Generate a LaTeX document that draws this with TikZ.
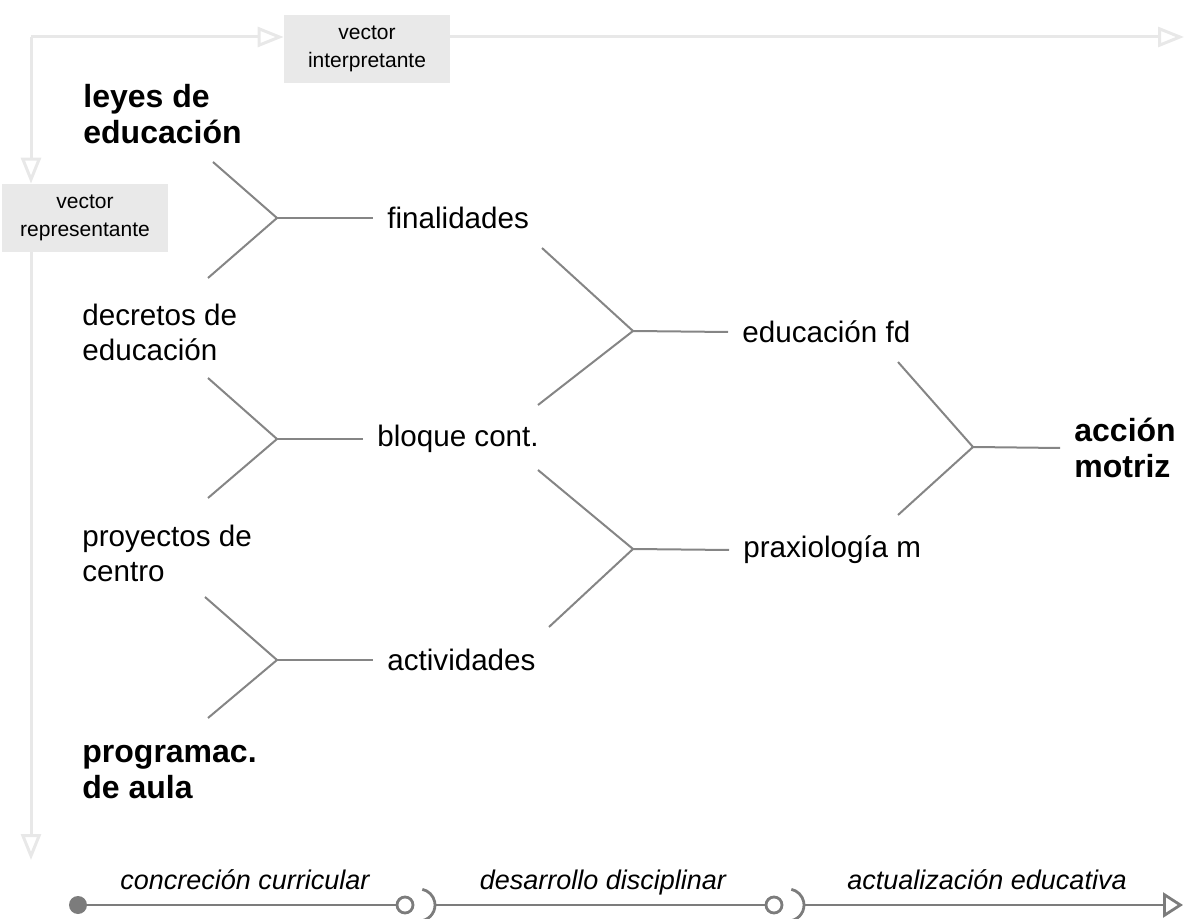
\documentclass[tikz,border=0pt]{standalone}
\usepackage{fontspec}
\setmainfont{Liberation Sans}
\usetikzlibrary{arrows.meta}

\definecolor{framegray}{HTML}{E8E8E8}
\definecolor{boxgray}{HTML}{E9E9E9}
\definecolor{forkgray}{HTML}{858585}
\definecolor{railgray}{HTML}{7C7C7C}

\begin{document}
\begin{tikzpicture}[x=0.5pt, y=-0.5pt,
  term/.style={anchor=west, inner ysep=0pt, inner xsep=7pt, align=left,
    font=\fontsize{14.8}{17.5}\selectfont},
  keyterm/.style={anchor=west, inner sep=0pt, align=left,
    font=\fontsize{16}{18}\selectfont\bfseries},
  vecbox/.style={fill=boxgray, minimum width=83pt, minimum height=34pt,
    inner sep=0pt, align=center, font=\fontsize{10.5}{14}\selectfont},
  phase/.style={anchor=base, inner sep=0pt, font=\fontsize{13.5}{16}\selectfont\itshape},
  frame/.style={draw=framegray, line width=1.5pt,
    -{Triangle[open, length=13pt, width=10pt]}},
  forkline/.style={draw=forkgray, line width=1pt},
  rail/.style={draw=railgray, line width=1.4pt},
  ball/.style={circle, draw=railgray, line width=1.4pt, fill=white,
    minimum size=8pt, inner sep=0pt}]
  \useasboundingbox (0,0) rectangle (1184,919);

  % --- vectors ---
  \node[vecbox] (interp) at (367,49) {vector\\interpretante};
  \node[vecbox] (repr) at (85,218) {vector\\representante};
  \coordinate (corner) at (31,37);
  \coordinate (topend) at (1184,37);
  \coordinate (downend) at (31,860);
  \draw[frame] (corner) -- (interp.west |- corner);
  \draw[frame] (interp.east |- corner) -- (topend);
  \draw[frame] (corner) -- (corner |- repr.north);
  \draw[frame] (corner |- repr.south) -- (downend);

  % --- left column ---
  \node[keyterm] (leyes) at (83,114) {leyes de\\educación};
  \node[term, inner xsep=0pt] (decretos) at (82,332) {decretos de\\educación};
  \node[term, inner xsep=0pt] (proyectos) at (82,553) {proyectos de\\centro};
  \node[keyterm] (programac) at (82,772) {programac.\\de aula};

  % --- middle and right columns ---
  \node[term] (finalidades) at (373,218) {finalidades};
  \node[term] (bloque) at (363,439) {bloque cont.};
  \node[term] (actividades) at (373,660) {actividades};
  \node[term] (edufd) at (728,332) {educación fd};
  \node[term] (praxio) at (729,550) {praxiología m};
  \node[keyterm, inner xsep=7pt] (accion) at (1060,448) {acción\\motriz};

  % --- forks ---
  \foreach \j/\x/\y/\ux/\uy/\dx/\dy in {1/277/218/213/162/208/278,
      2/277/439/208/378/208/498, 3/277/660/205/597/208/718,
      4/633/331/542/248/538/405, 5/633/549/538/470/549/627,
      6/973/447/898/362/898/515} {
    \coordinate (j\j) at (\x,\y);
    \coordinate (u\j) at (\ux,\uy);
    \coordinate (d\j) at (\dx,\dy);
    \draw[forkline] (u\j) -- (j\j) -- (d\j);
  }
  \draw[forkline] (j1) -- (finalidades.west);
  \draw[forkline] (j2) -- (bloque.west);
  \draw[forkline] (j3) -- (actividades.west);
  \draw[forkline] (j4) -- (edufd.west);
  \draw[forkline] (j5) -- (praxio.west);
  \draw[forkline] (j6) -- (accion.west);

  % --- bottom rail ---
  \foreach \x/\t [count=\i] in {245/concreción curricular,
      603/desarrollo disciplinar, 987/actualización educativa} {
    \node[phase] (phase\i) at (\x,889) {\t};
  }
  \node[circle, fill=railgray, minimum size=9pt, inner sep=0pt] (start) at (78,905) {};
  \node[ball] (ball1) at (405,905) {};
  \node[ball] (ball2) at (774,905) {};
  \coordinate (sock1) at (419,905);
  \coordinate (sock2) at (788,905);
  \coordinate (railend) at (1183,905);
  \draw[rail] (start) -- (ball1);
  \draw[rail] ([shift={(-78:8pt)}]sock1) arc[start angle=-78, end angle=78, radius=8pt];
  \draw[rail] ([xshift=8pt]sock1) -- (ball2);
  \draw[rail] ([shift={(-78:8pt)}]sock2) arc[start angle=-78, end angle=78, radius=8pt];
  \draw[rail, -{Triangle[open, length=10pt, width=12.5pt]}] ([xshift=8pt]sock2) -- (railend);
\end{tikzpicture}
\end{document}
